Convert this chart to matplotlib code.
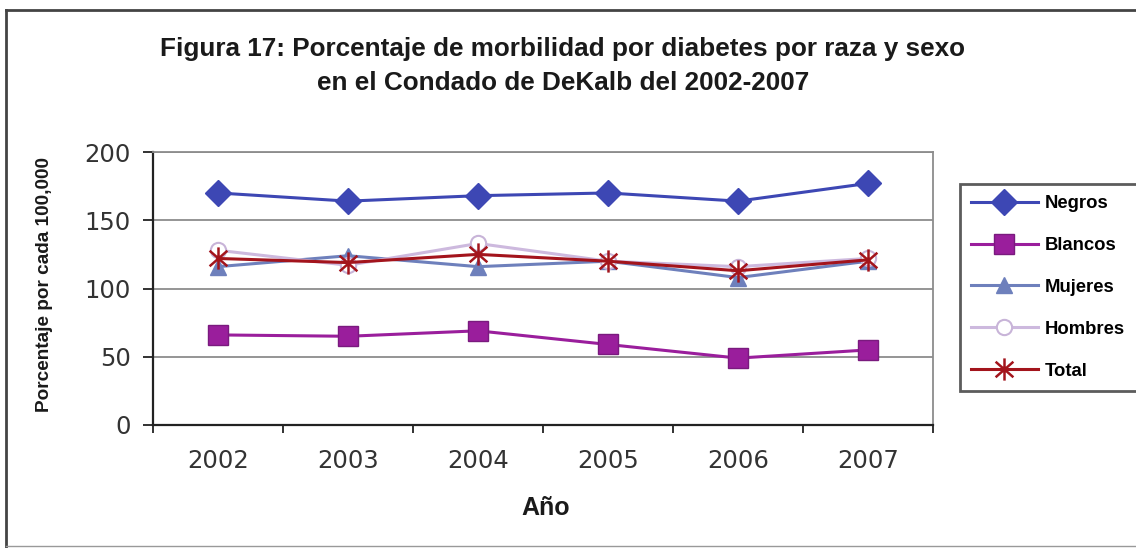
import matplotlib
matplotlib.use("Agg")
import matplotlib.pyplot as plt
from matplotlib.lines import Line2D
from matplotlib.path import Path

years = ["2002", "2003", "2004", "2005", "2006", "2007"]
negros = [170, 164, 168, 170, 164, 177]
blancos = [66, 65, 69, 59, 49, 55]
mujeres = [116, 124, 116, 120, 108, 120]
hombres = [128, 117, 133, 120, 116, 122]
total = [122, 119, 125, 120, 113, 121]
series_names = ["Negros", "Blancos", "Mujeres", "Hombres", "Total"]
yticks = [0, 50, 100, 150, 200]

title = "Figura 17: Porcentaje de morbilidad por diabetes por raza y sexo\nen el Condado de DeKalb del 2002-2007"
ylabel = "Porcentaje por cada 100,000"
xlabel = "Año"

W, H = 1136, 548
fig = plt.figure(figsize=(W / 100, H / 100), dpi=100)
fig.patch.set_facecolor("white")

ax = fig.add_axes([153 / W, 1 - 425 / H, 780 / W, 273 / H])
x = [i + 0.5 for i in range(len(years))]

star = Path([(0, -1), (0, 1), (-0.8, -0.7), (0.8, 0.7), (-0.8, 0.7), (0.8, -0.7)],
            [Path.MOVETO, Path.LINETO, Path.MOVETO, Path.LINETO, Path.MOVETO, Path.LINETO])

styles = [
    dict(color="#3D47B4", marker="D", ms=13, mfc="#3D47B4", mec="#3D47B4", lw=2.2),
    dict(color="#9A1E9C", marker="s", ms=15, mfc="#9A1E9C", mec="#7A1A7E", lw=2.2),
    dict(color="#6E80BC", marker="^", ms=12, mfc="#6E80BC", mec="#6E80BC", lw=2.2),
    dict(color="#CDB9DE", marker="o", ms=11, mfc="white", mec="#C8B4D8", mew=1.5, lw=2.2),
    dict(color="#A3141C", marker=star, ms=16, mfc="#A3141C", mec="#A3141C", mew=1.8, lw=2.2),
]
data = [negros, blancos, mujeres, hombres, total]
handles = []
for name, vals, st in zip(series_names, data, styles):
    h, = ax.plot(x, vals, label=name, zorder=3, **st)
    handles.append(h)

ax.set_xlim(0, 6)
ax.set_ylim(0, 200)
ax.set_yticks(yticks)
ax.yaxis.grid(True, color="#8C8C8C", lw=1.3)
ax.set_axisbelow(True)
ax.set_xticks(range(7))
ax.set_xticklabels([])
ax.set_xticks(x, minor=True)
ax.set_xticklabels(years, minor=True)
ax.tick_params(axis="x", which="major", direction="out", length=6, width=1.3, color="#222222")
ax.tick_params(axis="x", which="minor", length=0, pad=17, labelsize=17.5, labelcolor="#333333")
ax.tick_params(axis="y", direction="out", length=7, width=1.3, pad=9, labelsize=17.5,
               labelcolor="#333333", color="#222222")
for s in ["top", "right"]:
    ax.spines[s].set_color("#8C8C8C")
    ax.spines[s].set_linewidth(1.3)
for s in ["left", "bottom"]:
    ax.spines[s].set_color("#222222")
    ax.spines[s].set_linewidth(1.6)

fig.text(563 / W, 1 - 66 / H, title, ha="center", va="center", fontsize=18.8,
         fontweight="bold", family="Liberation Sans", color="#1a1a1a", linespacing=1.5)
fig.text(45 / W, 1 - 284 / H, ylabel, ha="center", va="center", rotation=90,
         fontsize=13.7, fontweight="bold", family="Liberation Sans", color="#1a1a1a")
fig.text(546 / W, 1 - 508 / H, xlabel, ha="center", va="center", fontsize=18,
         fontweight="bold", family="Liberation Sans", color="#1a1a1a")

leg = fig.legend(handles=handles, labels=series_names, loc="upper left",
                 bbox_to_anchor=(960 / W, 0, 0.3, 1 - 184 / H), mode="expand",
                 frameon=True, fancybox=False, edgecolor="#333333",
                 prop=dict(family="Liberation Sans", weight="bold", size=13.3),
                 handlelength=3.6, handletextpad=0.4, labelspacing=1.35,
                 borderpad=0.6, borderaxespad=0)
leg.get_frame().set_linewidth(2)

# outer frame
fig.add_artist(Line2D([6 / W, 6 / W], [0, 1 - 10 / H], transform=fig.transFigure, color="#444444", lw=2))
fig.add_artist(Line2D([6 / W, 1], [1 - 10 / H, 1 - 10 / H], transform=fig.transFigure, color="#444444", lw=2))
fig.add_artist(Line2D([6 / W, 1], [2 / H, 2 / H], transform=fig.transFigure, color="#999999", lw=1))

fig.savefig("out.png", dpi=100, facecolor="white")
